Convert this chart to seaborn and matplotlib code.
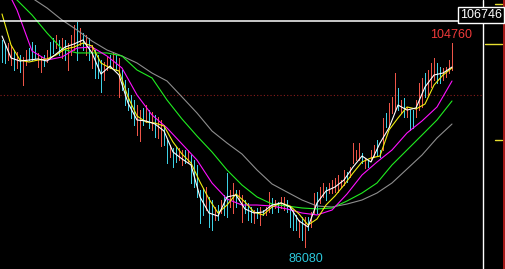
import numpy as np
import pandas as pd
import matplotlib
matplotlib.use("Agg")
import matplotlib.pyplot as plt
import matplotlib.transforms as mtransforms
import seaborn as sns

# ---------------- data (prices) ----------------
bar_high = [
    105040, 104580, 104760, 104580, 104120, 103940, 103660, 103480, 104120, 104300,
    104850, 104580, 103850, 103480, 103660, 104120, 104850, 105220, 105490, 105040,
    105220, 105040, 104760, 105490, 106410, 106690, 106140, 105680, 105490, 105220,
    104580, 104120, 103660, 103200, 103020, 103480, 103660, 103940, 103660, 103390,
    102290, 101370, 100640, 100000, 99540, 99080, 98620, 98810, 99080, 98620,
    98440, 98170, 97980, 97710, 97250, 95880, 95420, 95140, 95240, 95140,
    94960, 94960, 94960, 94500, 94040, 93590, 91300, 91480, 91570, 90660,
    90380, 89740, 89920, 90380, 90840, 92850, 91300, 91940, 91300, 91300,
    90840, 90380, 90110, 89740, 89460, 89650, 89740, 89460, 89740, 91110,
    90560, 90380, 90200, 90660, 90660, 90380, 89740, 89460, 89010, 88550,
    88820, 88820, 88820, 89280, 91020, 91110, 91570, 91940, 91570, 91940,
    92210, 92400, 92670, 92210, 93130, 92950, 93400, 95600, 94960, 95600,
    94690, 94230, 94040, 94960, 95420, 95880, 94960, 97890, 98350, 99270,
    99820, 102010, 100640, 99540, 99720, 98900, 98620, 98620, 99540, 101100,
    101560, 102010, 102290, 102930, 103390, 102930, 102560, 102470, 102560, 103200,
    104760,
]
bar_low = [
    103020, 102930, 103200, 102750, 102290, 102470, 102110, 100910, 102750, 103200,
    103200, 103390, 102560, 102110, 102650, 103020, 103480, 103850, 104300, 103660,
    103390, 103200, 102290, 103660, 104120, 103200, 104580, 104120, 103660, 103200,
    102470, 101560, 101560, 100270, 101370, 102290, 102470, 102560, 102290, 99820,
    100460, 99080, 98620, 97890, 97250, 96330, 95780, 97250, 97530, 96980,
    96790, 96150, 96060, 95330, 95420, 93770, 94320, 93400, 93860, 94040,
    93590, 93770, 93860, 91940, 91570, 90660, 88270, 89010, 89460, 87910,
    87630, 88550, 88550, 89190, 89010, 88820, 89740, 89190, 89740, 90380,
    88370, 89190, 88550, 88370, 88270, 88730, 88090, 89010, 89010, 89280,
    89190, 89650, 89280, 89650, 89460, 89280, 87910, 87630, 87630, 86990,
    86720, 86080, 87630, 87910, 89190, 89190, 90110, 90660, 90380, 91020,
    91020, 91110, 91110, 91570, 91750, 92030, 92490, 93770, 94040, 94040,
    93770, 93310, 93400, 94040, 94320, 94500, 94320, 94960, 97070, 97070,
    98350, 98620, 98620, 98350, 97980, 97980, 96790, 96980, 97980, 98620,
    98900, 99820, 100000, 100730, 101370, 101100, 101100, 101370, 101650, 102010,
    102290,
]
# r = up bar (red), c = down bar (cyan)
bar_dir = [
    "ccrrcrcrrc", "ccrrcrccrc", "rcrrrcrcrc", "rcccrrcrcr", "cccccrrcrc",
    "rcrrccrccr", "rcrcccccrc", "crcrccrrcr", "rcccrcrcrr", "crcrrccccr",
    "crcrrcrrcr", "rrrrrcrrrr", "crcrrccrcr", "rrcrcrccrr", "rcrrrccrrr",
    "r",
]

# moving averages sampled every 3 bars (fast) and every 5 bars (slow)
ma_fast_step = 3
ma_slow_step = 5
ma5 = [105400, 103390, 103110, 103200, 103300, 103110, 103750, 104390, 104670, 105040,
       103850, 101920, 102650, 101830, 99270, 97710, 97620, 97340, 96700, 94780,
       94140, 93590, 90660, 89190, 88910, 90660, 90840, 89560, 89190, 89280,
       89920, 90110, 89740, 88460, 87910, 90110, 91200, 91570, 92210, 93400,
       94410, 93860, 95600, 96980, 99080, 98620, 98810, 100730, 101830, 102010,
       102560]
ma10 = [107420, 104580, 103200, 103020, 103200, 103300, 103660, 104210, 104390, 104760,
        104490, 102930, 102470, 102200, 99820, 98070, 97530, 97430, 97160, 95690,
        94590, 93770, 92030, 90470, 89190, 89920, 90930, 90200, 89280, 89010,
        89740, 90110, 89830, 89100, 88090, 88640, 89920, 90750, 91750, 92850,
        93860, 94230, 94410, 96790, 97890, 98900, 98720, 99170, 100910, 101830,
        102470]
ma20 = [110530, 107780, 104030, 103200, 103480, 104300, 104390, 103570, 102470, 100000,
        98170, 96980, 95510, 94040, 91940, 90470, 89920, 89920, 89830, 89560,
        89190, 89010, 89460, 90930, 92670, 93860, 94960, 96520, 97620, 98900,
        101280]
ma40 = [110070, 108700, 107330, 105680, 104210, 103850, 103850, 103850, 103570, 102290,
        101560, 99540, 97800, 96240, 94780, 93130, 91750, 90660, 90010, 89830,
        89650, 89560, 89650, 90290, 91020, 91940, 93590, 94960, 96330, 97710,
        99450]
ma60 = [110720, 109800, 108880, 107970, 106870, 105950, 104940, 104120, 103570, 102930,
        102010, 101280, 99820, 98350, 96700, 95600, 94590, 93130, 91850, 91110,
        90380, 89830, 89740, 90010, 90380, 91020, 91940, 93220, 94500, 96060,
        97340]

last_price = 106746
round_level = 100000
peak_value = 104760
trough_value = 86080

# ---------------- style ----------------
sns.set_style("dark", {"axes.facecolor": "black", "figure.facecolor": "black"})
plt.rcParams["font.family"] = ["Liberation Sans", "DejaVu Sans"]

RED = "#ee5548"
CYAN = "#3dd0e4"
ma_colors = {"ma5": "#ffffff", "ma10": "#f0ee10", "ma20": "#ff10ff",
             "ma40": "#20ee20", "ma60": "#8e8e8e"}

fig = plt.figure(figsize=(5.05, 2.69), dpi=100)
ax = fig.add_axes([0, 0, 1, 1])
ax.set_facecolor("black")

n = len(bar_high)
idx = np.arange(n)
dirs = np.array(list("".join(bar_dir)))
hi = np.array(bar_high)
lo = np.array(bar_low)
up = dirs == "r"
dn = ~up
px = 72.0 / 100.0
ax.vlines(idx[up], lo[up], hi[up], colors=RED, linewidth=px, antialiased=False, zorder=2)
ax.vlines(idx[dn], lo[dn], hi[dn], colors=CYAN, linewidth=px, antialiased=False, zorder=2)

frames = []
for name, vals, step in [("ma60", ma60, ma_slow_step), ("ma40", ma40, ma_slow_step),
                         ("ma20", ma20, ma_slow_step), ("ma10", ma10, ma_fast_step),
                         ("ma5", ma5, ma_fast_step)]:
    frames.append(pd.DataFrame({"bar": np.arange(len(vals)) * step, "price": vals, "ma": name}))
ma_df = pd.concat(frames, ignore_index=True)
sns.lineplot(data=ma_df, x="bar", y="price", hue="ma", palette=ma_colors,
             hue_order=["ma60", "ma40", "ma20", "ma10", "ma5"],
             estimator=None, sort=False, legend=False, linewidth=0.8, ax=ax, zorder=3)

ax.set_xlim(-2 / 3, 503 / 3)
ax.set_ylim(84060, 108700)

plot_right = 482.5 / 505
# horizontal price lines
ax.axhline(last_price, xmin=0, xmax=plot_right, color="white", linewidth=1.1, zorder=4)
ax.axhline(round_level, xmin=0, xmax=plot_right, color="#8a1c1c", linewidth=0.8,
           linestyle=(0, (1, 2)), zorder=1)

# right panel separators
ax.plot([plot_right, plot_right], [0, 1], transform=ax.transAxes, color="white",
        linewidth=1.0, zorder=4)
ax.plot([503.5 / 505, 503.5 / 505], [0, 1], transform=ax.transAxes, color="#c81e1e",
        linewidth=1.2, zorder=4)
for y_px, x0_px in [(3.5, 495), (43.5, 485), (139.5, 495)]:
    ax.plot([x0_px / 505, 502 / 505], [1 - y_px / 269] * 2, transform=ax.transAxes,
            color="#e8e030", linewidth=1.0, zorder=4)

# labels
ipk = len(bar_high) - 1 - bar_high[::-1].index(peak_value)
itr = bar_low.index(trough_value)
ax.annotate(f"{peak_value}", xy=(ipk, peak_value), xytext=(-1, 3.3), textcoords="offset points",
            ha="center", va="baseline", color="#f03a3a", fontsize=9, zorder=5)
ax.annotate(f"{trough_value}", xy=(itr, trough_value), xytext=(0.5, -10.8), textcoords="offset points",
            ha="center", va="baseline", color="#2cc8dc", fontsize=9, zorder=5)
blend = mtransforms.blended_transform_factory(ax.transAxes, ax.transData)
ax.annotate(f"{last_price}", xy=(481 / 505, last_price), xycoords=blend,
            xytext=(0, 2.4), textcoords="offset points", ha="center", va="baseline",
            color="white", fontsize=9, zorder=6,
            bbox=dict(boxstyle="square,pad=0.18", facecolor="black", edgecolor="white",
                      linewidth=1.0))

ax.axis("off")
fig.savefig("out.png", dpi=100, facecolor="black")
